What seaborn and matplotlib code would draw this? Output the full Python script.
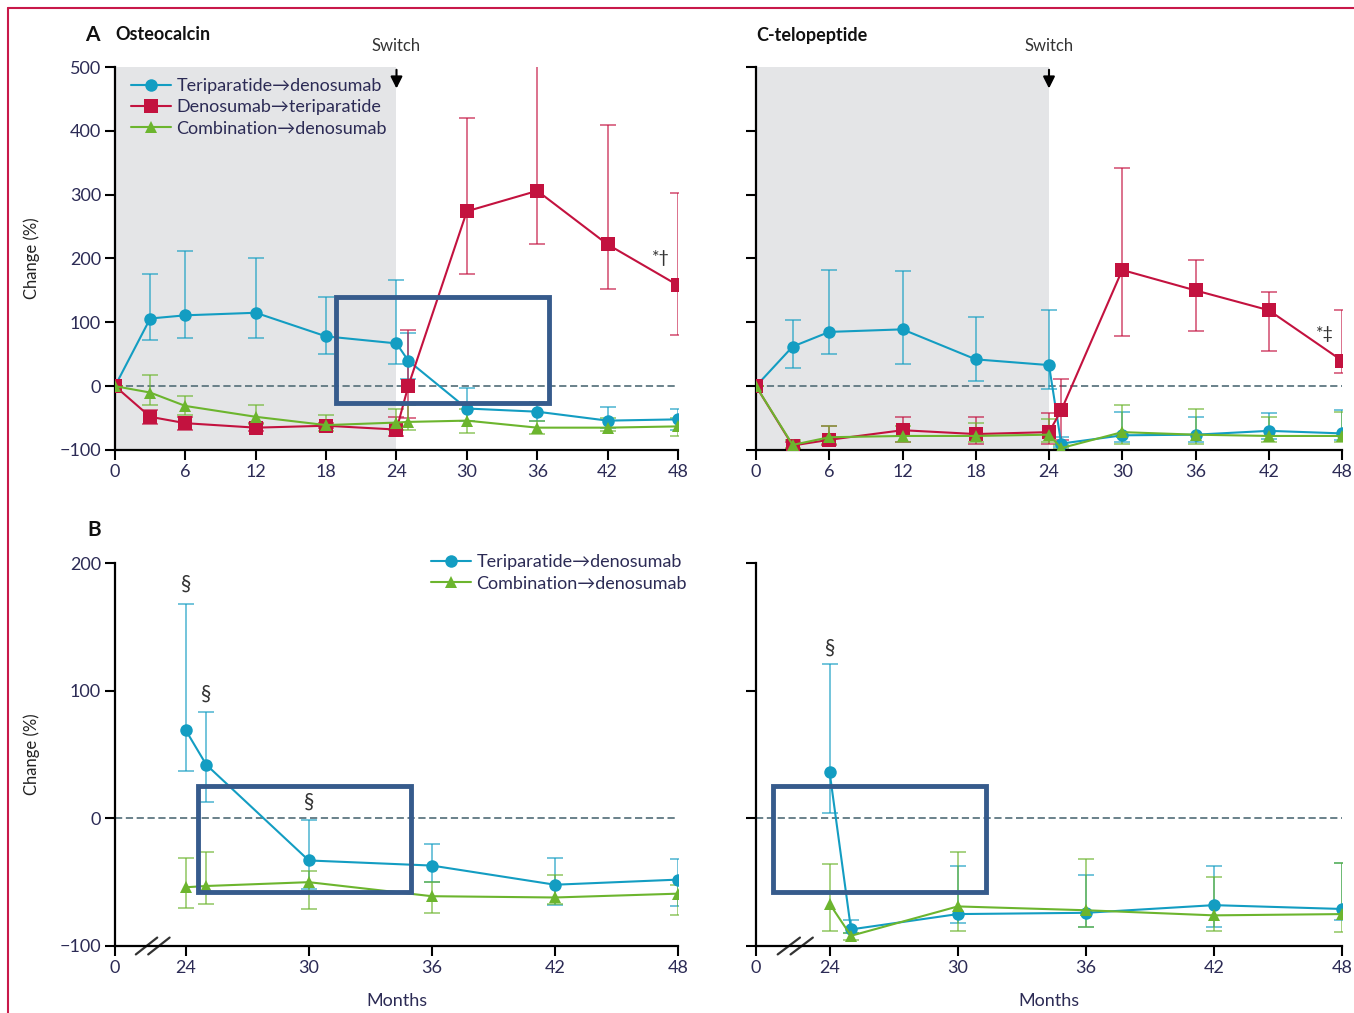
import numpy as np
import pandas as pd
import matplotlib
matplotlib.use("Agg")
import matplotlib.pyplot as plt
import seaborn as sns
from matplotlib.lines import Line2D
from matplotlib.patches import Rectangle

# Meses das medições
meses_a = [0, 3, 6, 12, 18, 24, 25, 30, 36, 42, 48]
meses_b = [24, 25, 30, 36, 42, 48]

# Painel A - Osteocalcina
osteo_teri = [0, 106, 111, 115, 78, 67, 40, -35, -40, -54, -52]
osteo_teri_lo = [0, 72, 76, 76, 50, 35, 11, -55, -55, -65, -68]
osteo_teri_hi = [0, 176, 211, 200, 140, 166, 84, -3, -25, -33, -35]
osteo_deno = [0, -48, -58, -65, -62, -68, 0, 274, 306, 222, 158]
osteo_deno_lo = [0, -60, -68, -70, -66, -78, -50, 175, 223, 152, 80]
osteo_deno_hi = [0, -38, -48, -58, -57, -48, 88, 420, 520, 409, 302]
osteo_comb = [0, -10, -31, -48, -61, -57, -56, -54, -65, -65, -63]
osteo_comb_lo = [0, -30, -45, -60, -70, -68, -68, -73, -75, -70, -78]
osteo_comb_hi = [0, 18, -15, -30, -45, -35, -30, -35, -55, -50, -50]

# Painel A - C-telopeptídeo
ctx_teri = [0, 62, 85, 89, 42, 33, -90, -77, -76, -70, -74]
ctx_teri_lo = [0, 28, 50, 34, 8, -5, -95, -88, -88, -82, -85]
ctx_teri_hi = [0, 103, 182, 181, 108, 120, -80, -40, -48, -42, -38]
ctx_deno = [0, -93, -84, -69, -75, -72, -38, 182, 150, 119, 40]
ctx_deno_lo = [0, -98, -92, -88, -90, -90, -85, 78, 87, 55, 20]
ctx_deno_hi = [0, -88, -62, -48, -48, -42, 12, 342, 198, 148, 120]
ctx_comb = [0, -92, -80, -78, -78, -76, -97, -72, -76, -78, -78]
ctx_comb_lo = [0, -97, -90, -88, -88, -88, -99, -90, -90, -88, -88]
ctx_comb_hi = [0, -85, -63, -62, -58, -52, -92, -30, -35, -48, -40]

# Painel B
b_osteo_teri = [69, 42, -33, -37, -52, -48]
b_osteo_teri_lo = [37, 13, -55, -50, -68, -69]
b_osteo_teri_hi = [168, 83, -1, -20, -31, -32]
b_osteo_comb = [-54, -53, -50, -61, -62, -59]
b_osteo_comb_lo = [-70, -67, -71, -74, -67, -76]
b_osteo_comb_hi = [-31, -26, -41, -50, -44, -52]
b_ctx_teri = [36, -87, -75, -74, -68, -71]
b_ctx_teri_lo = [4, -90, -82, -85, -85, -80]
b_ctx_teri_hi = [121, -80, -37, -44, -37, -35]
b_ctx_comb = [-67, -92, -69, -72, -76, -75]
b_ctx_comb_lo = [-88, -95, -88, -85, -88, -89]
b_ctx_comb_hi = [-36, -90, -26, -32, -46, -35]

nomes = ["Teriparatide\u2192denosumab", "Denosumab\u2192teriparatide",
         "Combination\u2192denosumab"]
cores = ["#139dc2", "#c3123f", "#6cb52e"]
marcadores = ["o", "s", "^"]
tam_marc = [9, 9.5, 8]

sns.set_style("white")
plt.rcParams["font.family"] = ["Lato", "DejaVu Sans"]
cor_txt = "#2c2b55"

fig = plt.figure(figsize=(13.54, 10.13), dpi=100)
W, H = 1354, 1013


def eixo(x0, x1, y0, y1):
    return fig.add_axes([x0 / W, 1 - y1 / H, (x1 - x0) / W, (y1 - y0) / H])


ax_a1 = eixo(115, 678, 67, 450)
ax_a2 = eixo(756, 1342, 67, 450)
ax_b1 = eixo(115, 678, 563, 946)
ax_b2 = eixo(756, 1342, 563, 946)

# escala com quebra entre 0 e 24 meses
k = 3.45


def fwd(x):
    x = np.asarray(x, dtype=float)
    return np.where(x < 24, x * k / 24, x - 24 + k)


def inv(y):
    y = np.asarray(y, dtype=float)
    return np.where(y < k, y * 24 / k, y + 24 - k)


def desenha(ax, meses, series, idx):
    for (v, lo, hi), i in zip(series, idx):
        v = np.array(v, dtype=float)
        ax.errorbar(meses, v, yerr=[v - np.array(lo), np.array(hi) - v], fmt="none",
                    ecolor=cores[i], alpha=0.6, elinewidth=1.4, capsize=6, capthick=1.4,
                    zorder=2)
        df = pd.DataFrame({"mes": meses, "valor": v})
        sns.lineplot(data=df, x="mes", y="valor", ax=ax, color=cores[i], marker=marcadores[i],
                     markersize=tam_marc[i], markeredgewidth=0, linewidth=1.5,
                     estimator=None, sort=False, zorder=3, label=nomes[i])


desenha(ax_a1, meses_a, [(osteo_teri, osteo_teri_lo, osteo_teri_hi),
                         (osteo_deno, osteo_deno_lo, osteo_deno_hi),
                         (osteo_comb, osteo_comb_lo, osteo_comb_hi)], [0, 1, 2])
desenha(ax_a2, meses_a, [(ctx_teri, ctx_teri_lo, ctx_teri_hi),
                         (ctx_deno, ctx_deno_lo, ctx_deno_hi),
                         (ctx_comb, ctx_comb_lo, ctx_comb_hi)], [0, 1, 2])
desenha(ax_b1, meses_b, [(b_osteo_teri, b_osteo_teri_lo, b_osteo_teri_hi),
                         (b_osteo_comb, b_osteo_comb_lo, b_osteo_comb_hi)], [0, 2])
desenha(ax_b2, meses_b, [(b_ctx_teri, b_ctx_teri_lo, b_ctx_teri_hi),
                         (b_ctx_comb, b_ctx_comb_lo, b_ctx_comb_hi)], [0, 2])

for ax in [ax_a1, ax_a2, ax_b1, ax_b2]:
    sns.despine(ax=ax)
    for s in ["left", "bottom"]:
        ax.spines[s].set_linewidth(1.6)
        ax.spines[s].set_color("black")
    ax.tick_params(axis="both", direction="out", length=7, width=1.5, color="black",
                   labelsize=13, labelcolor=cor_txt, left=True, bottom=True, pad=3)
    ax.axhline(0, color="#5e7781", lw=1.3, ls=(0, (4, 2)), zorder=1)
    ax.set_xlabel("")
    ax.set_ylabel("")

for ax in [ax_a1, ax_a2]:
    ax.axvspan(0, 24, color="#e4e5e7", zorder=0, lw=0)
    ax.set_xlim(0, 48)
    ax.set_ylim(-100, 500)
    ax.set_xticks([0, 6, 12, 18, 24, 30, 36, 42, 48])
    ax.set_yticks([-100, 0, 100, 200, 300, 400, 500])
    ax.annotate("", xy=(24, 462), xytext=(24, 500),
                arrowprops=dict(arrowstyle="-|>,head_width=0.35,head_length=0.7",
                                color="black", lw=1.5), annotation_clip=False)
    ax.text(24, 520, "Switch", ha="center", va="bottom", fontsize=12, color="#333333",
            clip_on=False)

for ax in [ax_b1, ax_b2]:
    ax.set_xscale("function", functions=(fwd, inv))
    ax.set_xlim(0, 48)
    ax.set_ylim(-100, 200)
    ax.set_xticks([0, 24, 30, 36, 42, 48])
    ax.set_xticklabels(["0", "24", "30", "36", "42", "48"])
    ax.set_yticks([-100, 0, 100, 200])
    ax.set_xlabel("Months", fontsize=13, color=cor_txt, labelpad=12)
    # marcas de quebra do eixo
    for dx in [0.0, 0.022]:
        ax.add_line(Line2D([0.037 + dx, 0.075 + dx], [-0.022, 0.022], transform=ax.transAxes,
                           color="#333333", lw=1.6, clip_on=False))

ax_a1.set_yticklabels(["\u2212100", "0", "100", "200", "300", "400", "500"])
ax_b1.set_yticklabels(["\u2212100", "0", "100", "200"])
ax_a2.set_yticklabels([])
ax_b2.set_yticklabels([])

for ax in [ax_a1, ax_b1]:
    ax.set_ylabel("Change (%)", fontsize=12, color="#222222", labelpad=14)

# legendas
ax_a1.legend(loc="upper left", bbox_to_anchor=(0.01, 1.0), frameon=False, fontsize=13,
             handlelength=2.2, labelspacing=0.3, borderaxespad=0.2, handletextpad=0.3,
             labelcolor=cor_txt)
ax_b1.legend(loc="upper right", bbox_to_anchor=(1.045, 1.065), frameon=False, fontsize=13,
             handlelength=2.2, labelspacing=0.3, handletextpad=0.3, labelcolor=cor_txt)
for ax in [ax_a2, ax_b2]:
    ax.get_legend().remove()

# anotações
ax_a1.text(47.3, 200, "*\u2020", ha="right", va="center", fontsize=13, color="#333333")
ax_a2.text(47.3, 82, "*\u2021", ha="right", va="center", fontsize=13, color="#333333")
ax_b1.text(24, 176, "\u00a7", ha="center", va="bottom", fontsize=15, color="#333333")
ax_b1.text(25, 90, "\u00a7", ha="center", va="bottom", fontsize=15, color="#333333")
ax_b1.text(30, 5, "\u00a7", ha="center", va="bottom", fontsize=15, color="#333333")
ax_b2.text(24, 126, "\u00a7", ha="center", va="bottom", fontsize=15, color="#333333")

# títulos
fig.text(85 / W, 1 - 35 / H, "A", fontsize=15, fontweight="bold", color="#111111", va="center")
fig.text(115 / W, 1 - 35 / H, "Osteocalcin", fontsize=13, fontweight="bold", color="#111111",
         va="center")
fig.text(756 / W, 1 - 35 / H, "C-telopeptide", fontsize=13, fontweight="bold", color="#111111",
         va="center")
fig.text(87 / W, 1 - 530 / H, "B", fontsize=15, fontweight="bold", color="#111111", va="center")

# caixas de destaque
cor_caixa = "#365b8c"
for x0, x1, y0, y1 in [(336, 549, 297, 403), (198, 411, 786, 892), (773, 986, 786, 892)]:
    fig.add_artist(Rectangle((x0 / W, 1 - y1 / H), (x1 - x0) / W, (y1 - y0) / H,
                             transform=fig.transFigure, fill=False, ec=cor_caixa, lw=3.5,
                             zorder=10))

# moldura vermelha
fig.add_artist(Line2D([8 / W, 8 / W], [0, 1 - 8 / H], transform=fig.transFigure,
                      color="#c8194a", lw=1.5))
fig.add_artist(Line2D([8 / W, 1], [1 - 8 / H, 1 - 8 / H], transform=fig.transFigure,
                      color="#c8194a", lw=1.5))

fig.savefig("out.png", dpi=100)
